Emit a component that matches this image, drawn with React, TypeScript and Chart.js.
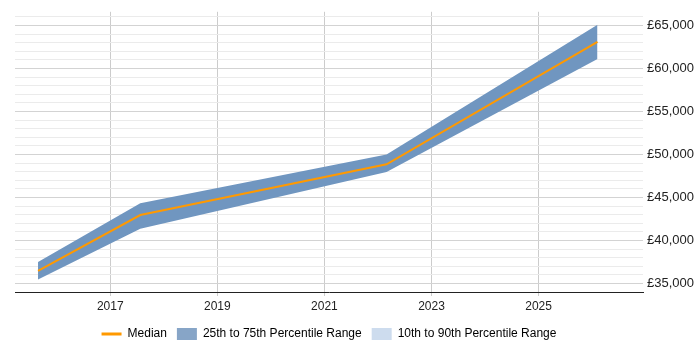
import React, { useEffect, useRef } from "react";
import { Chart, registerables } from "chart.js";

Chart.register(...registerables);

const years = [2015.65, 2017.56, 2022.16, 2026.1];
const median = [36450, 42950, 48860, 63100];
const p25 = [35450, 41360, 47950, 61100];
const p75 = [37500, 44320, 50000, 65100];
const xTickYears = [2017, 2019, 2021, 2023, 2025];
const yMin = 34000;
const yMax = 66600;
const yStep = 1000;
const yLabelStep = 5000;

const legendLabels = ["Median", "25th to 75th Percentile Range", "10th to 90th Percentile Range"];

const FONT = "'Liberation Sans', Arial, sans-serif";
const ORANGE = "#ff9900";
const BAND = "#7096c0";
const BAND_LEGEND = "#87a5c7";
const OUTER_LEGEND = "#cddcee";

const centerLegendOnPlot = {
  id: "centerLegendOnPlot",
  afterLayout(chart: any) {
    const l = chart.legend;
    const a = chart.chartArea;
    if (l && a) {
      l.left = a.left;
      l.right = a.right;
      l.width = a.right - a.left;
    }
  },
};

export default function App() {
  const ref = useRef<HTMLCanvasElement | null>(null);

  useEffect(() => {
    if (!ref.current) return;
    const pts = (vals: number[]) => years.map((x, i) => ({ x, y: vals[i] }));
    const yTicks: number[] = [];
    for (let v = yMin; v <= yMax; v += yStep) yTicks.push(v);

    const chart = new Chart(ref.current, {
      type: "line",
      data: {
        datasets: [
          {
            label: legendLabels[0],
            data: pts(median),
            borderColor: ORANGE,
            borderWidth: 2,
            pointRadius: 0,
            fill: false,
            tension: 0,
          },
          {
            label: "p75",
            data: pts(p75),
            borderWidth: 0,
            borderColor: BAND,
            backgroundColor: BAND,
            pointRadius: 0,
            fill: "+1",
            tension: 0,
          },
          {
            label: "p25",
            data: pts(p25),
            borderWidth: 0,
            borderColor: BAND,
            backgroundColor: BAND,
            pointRadius: 0,
            fill: false,
            tension: 0,
          },
        ],
      },
      plugins: [centerLegendOnPlot],
      options: {
        responsive: false,
        animation: false,
        layout: { padding: { left: 15, top: 5, right: 4, bottom: 0 } },
        plugins: {
          tooltip: { enabled: false },
          legend: {
            position: "bottom",
            onClick: () => {},
            labels: {
              usePointStyle: true,
              pointStyleWidth: 20,
              boxHeight: 12,
              padding: 10,
              color: "#222",
              font: { family: FONT, size: 12 },
              generateLabels: () => [
                {
                  text: legendLabels[0],
                  pointStyle: "line",
                  strokeStyle: ORANGE,
                  fillStyle: ORANGE,
                  lineWidth: 3,
                  hidden: false,
                  datasetIndex: 0,
                },
                {
                  text: legendLabels[1],
                  pointStyle: "rect",
                  strokeStyle: BAND_LEGEND,
                  fillStyle: BAND_LEGEND,
                  lineWidth: 0,
                  hidden: false,
                },
                {
                  text: legendLabels[2],
                  pointStyle: "rect",
                  strokeStyle: OUTER_LEGEND,
                  fillStyle: OUTER_LEGEND,
                  lineWidth: 0,
                  hidden: false,
                },
              ],
            },
          },
        },
        scales: {
          x: {
            type: "linear",
            min: 2015.22,
            max: 2026.95,
            afterBuildTicks: (scale: any) => {
              scale.ticks = xTickYears.map((v) => ({ value: v }));
            },
            afterFit: (scale: any) => {
              scale.height = 26;
            },
            ticks: {
              autoSkip: false,
              maxRotation: 0,
              padding: 3,
              color: "#222",
              font: { family: FONT, size: 12 },
              callback: (v: any) => String(v),
            },
            grid: {
              color: "#cccccc",
              lineWidth: 1,
              drawTicks: true,
              tickLength: 4,
              tickColor: "#cccccc",
            },
            border: { display: true, color: "#222", width: 1 },
          },
          y: {
            type: "linear",
            position: "right",
            min: yMin,
            max: yMax,
            afterBuildTicks: (scale: any) => {
              scale.ticks = yTicks.map((v) => ({ value: v }));
            },
            afterFit: (scale: any) => {
              scale.width = 53;
            },
            ticks: {
              autoSkip: false,
              padding: 4,
              color: "#222",
              font: { family: FONT, size: 13 },
              callback: (v: any) =>
                Number(v) % yLabelStep === 0 ? "£" + Number(v).toLocaleString("en-GB") : "",
            },
            grid: {
              drawTicks: false,
              color: (ctx: any) =>
                ctx.tick && ctx.tick.value % yLabelStep === 0 ? "#d3d3d3" : "#ebebeb",
              lineWidth: 1,
            },
            border: { display: false },
          },
        },
      },
    });
    return () => chart.destroy();
  }, []);

  return (
    <div style={{ position: "fixed", left: 0, top: 0, width: 700, height: 350, background: "#fff" }}>
      <canvas ref={ref} width={700} height={350} />
    </div>
  );
}
